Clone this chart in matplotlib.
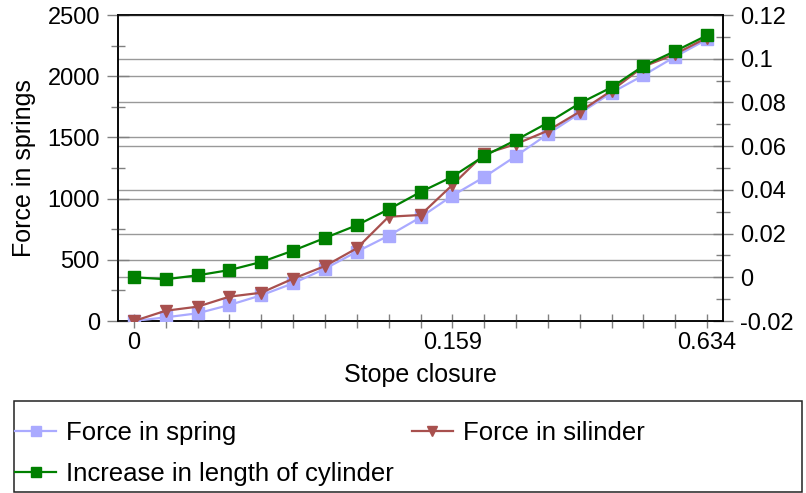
import matplotlib

matplotlib.use("Agg")
import matplotlib.pyplot as plt
from matplotlib.patches import Rectangle
from matplotlib.ticker import FormatStrFormatter, MultipleLocator

plt.rcParams["font.family"] = ["Liberation Sans", "DejaVu Sans"]
plt.rcParams["axes.unicode_minus"] = False

# category axis: 19 closure steps, only three labelled
x_tick_labels = ["0", "", "", "", "", "", "", "", "", "", "0.159",
                 "", "", "", "", "", "", "", "0.634"]
force_spring = [0, 30, 63, 131, 210, 308, 427, 566, 697, 847, 1024,
                1176, 1348, 1528, 1697, 1865, 2007, 2160, 2301]
force_silinder = [0, 84, 117, 199, 231, 346, 449, 594, 852, 866, 1111,
                  1364, 1446, 1555, 1710, 1882, 2078, 2181, 2315]
cyl_length = [0.0, -0.0009, 0.0009, 0.0033, 0.007, 0.0122, 0.018, 0.0238,
              0.0311, 0.039, 0.046, 0.0555, 0.0628, 0.0707, 0.0796, 0.0869,
              0.0967, 0.1035, 0.1107]

FS = 18
GRID = "#999999"
TICK = "#808080"

fig = plt.figure(figsize=(8.06, 4.93), dpi=100)
ax = fig.add_axes([118 / 806, 1 - 321 / 493, (723 - 118) / 806, (321 - 15) / 493])
ax2 = ax.twinx()
ax.set_zorder(ax2.get_zorder() + 1)
ax.patch.set_visible(False)

x = list(range(len(x_tick_labels)))

ax.set_xlim(-0.5, len(x) - 0.5)
ax.set_ylim(0, 2500)
ax2.set_ylim(-0.02, 0.12)

# grid lines for both scales sit underneath the data
ax.yaxis.set_major_locator(MultipleLocator(500))
ax.yaxis.set_minor_locator(MultipleLocator(250))
ax2.yaxis.set_major_locator(MultipleLocator(0.02))
ax2.yaxis.set_minor_locator(MultipleLocator(0.01))
ax2.yaxis.set_major_formatter(FormatStrFormatter("%g"))
ax.grid(True, axis="y", which="major", color=GRID, lw=1.0, zorder=0)
ax2.grid(True, axis="y", which="major", color=GRID, lw=1.0)

l_spring, = ax.plot(x, force_spring, color="#AAAAFF", lw=1.6, marker="s",
                    ms=8.5, mec="#AAAAFF", label="Force in spring", zorder=3)
l_sil, = ax.plot(x, force_silinder, color="#A8504E", lw=1.6, marker="v", ms=9,
                 mec="#A8504E", label="Force in silinder", zorder=4)
l_cyl, = ax.plot(x, cyl_length, color="#008000", lw=1.6, marker="s", ms=9,
                 mec="#008000", transform=ax2.transData,
                 label="Increase in length of cylinder", zorder=5)

ax.set_xticks(x)
ax.set_xticklabels(x_tick_labels)

for a in (ax, ax2):
    for s in a.spines.values():
        s.set_color("black")
        s.set_linewidth(1.1)

ax.tick_params(axis="y", which="major", direction="inout", length=16, width=1,
               color=TICK, labelsize=FS - 1, pad=5)
ax.tick_params(axis="y", which="minor", direction="inout", length=9.5, width=1,
               color=TICK)
ax.tick_params(axis="x", which="major", direction="inout", length=9.5, width=1,
               color=TICK, labelsize=FS - 1, pad=3.5)
ax2.tick_params(axis="y", which="major", direction="inout", length=14, width=1,
                color=TICK, labelsize=FS - 1, pad=5)
ax2.tick_params(axis="y", which="minor", direction="inout", length=10, width=1,
                color=TICK)

ax.set_xlabel("Stope closure", fontsize=FS, labelpad=6)
ax.set_ylabel("Force in springs", fontsize=FS, labelpad=8)

# column-wise fill: spring + cylinder in the first column, silinder in the second
fig.legend([l_spring, l_cyl, l_sil],
           [l_spring.get_label(), l_cyl.get_label(), l_sil.get_label()],
           ncol=2, loc="upper left",
           bbox_to_anchor=(15 / 806, 1 - 421 / 493), frameon=False,
           fontsize=FS + 0.5, borderpad=0, borderaxespad=0, handlelength=1.6,
           handletextpad=0.4, columnspacing=0.68, labelspacing=0.68,
           markerscale=0.8)
fig.patches.append(Rectangle((14 / 806, 1 / 493), 788 / 806, 91 / 493,
                             transform=fig.transFigure, fill=False,
                             ec="#222222", lw=1.1))

fig.savefig("out.png", dpi=100)
